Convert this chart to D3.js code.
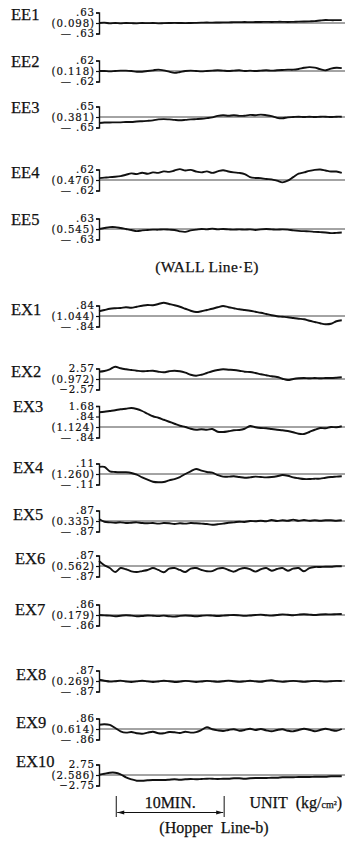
<!DOCTYPE html>
<html>
<head>
<meta charset="utf-8">
<script src="https://cdn.jsdelivr.net/npm/d3@7"></script>
<style>
  body { margin: 0; background: #fff; }
  svg { display: block; }
  .lbl { font-family: "Liberation Serif", "Times New Roman", serif; fill: #111; stroke: #111; stroke-width: 0.25px; }
</style>
</head>
<body>
<div class="chart"></div>
<script>
// one reading every half minute (minutes)
const times = d3.range(0, 23, 0.5);

const panelNames = ["EE1", "EE2", "EE3", "EE4", "EE5",
  "EX1", "EX2", "EX3", "EX4", "EX5", "EX6", "EX7", "EX8", "EX9", "EX10"];

// full scale of each trace (kg/cm2) and the mean shown in brackets
const ranges = [0.63, 0.62, 0.65, 0.62, 0.63, 0.84, 2.57, 0.84, 0.11, 0.87, 0.87, 0.86, 0.87, 0.86, 2.75];
const means = ["0.098", "0.118", "0.381", "0.476", "0.545", "1.044", "0.972", "1.124",
  "1.260", "0.335", "0.562", "0.179", "0.269", "0.614", "2.586"];

// EX3 gets an extra scale mark
const ex3Ticks = [1.68, 0.84];

// deviations from the mean
const ee1 = [0, 0.02, -0.02, 0, -0.02, 0, -0.01, -0.02, 0, -0.01, 0, -0.02, -0.01, 0, 0.01, 0, -0.01, 0, 0.01, 0.02, 0.03, 0.02, 0.03, 0.04, 0.04, 0.05, 0.05, 0.06, 0.05, 0.06, 0.06, 0.07, 0.06, 0.07, 0.07, 0.06, 0.07, 0.08, 0.09, 0.10, 0.11, 0.15, 0.18, 0.17, 0.17, 0.17];
const ee2 = [0, 0, -0.02, 0, 0.02, 0.02, 0, -0.04, -0.04, 0, 0.04, 0.08, 0.04, -0.04, -0.11, -0.06, 0, 0.02, 0, -0.02, 0, 0.02, 0.04, 0.02, 0, 0.02, 0.04, 0, 0.02, 0, 0.02, 0.04, 0.02, 0.04, 0.06, 0.08, 0.08, 0.12, 0.19, 0.23, 0.2, 0.11, 0.04, 0.14, 0.19, 0.17];
const ee3 = [-0.37, -0.34, -0.34, -0.33, -0.33, -0.31, -0.31, -0.28, -0.26, -0.24, -0.21, -0.15, -0.13, -0.15, -0.18, -0.2, -0.18, -0.15, -0.13, -0.11, -0.07, -0.02, 0.07, 0.11, 0.08, 0.11, 0.07, 0.08, 0.13, 0.11, 0.15, 0.11, 0.05, -0.05, -0.08, -0.02, 0, 0.02, 0, 0.02, 0, 0.02, 0.02, 0, 0.02, 0.02];
const ee4 = [0.11, 0.14, 0.17, 0.19, 0.23, 0.31, 0.39, 0.35, 0.43, 0.37, 0.45, 0.42, 0.51, 0.48, 0.56, 0.64, 0.56, 0.6, 0.5, 0.45, 0.51, 0.42, 0.51, 0.58, 0.5, 0.45, 0.42, 0.35, 0.17, 0.12, 0.11, 0.06, 0.04, -0.04, -0.14, -0.04, 0.17, 0.37, 0.45, 0.54, 0.6, 0.62, 0.56, 0.5, 0.5, 0.42];
const ee5 = [0, 0.06, 0.11, 0.11, 0.06, 0, -0.06, -0.13, -0.08, -0.06, -0.04, -0.04, -0.02, -0.04, -0.06, -0.14, -0.17, -0.08, -0.04, 0, -0.02, 0.02, -0.02, 0, -0.02, -0.04, -0.02, -0.04, -0.02, -0.06, -0.02, 0, -0.02, -0.04, -0.02, -0.04, -0.08, -0.11, -0.13, -0.14, -0.17, -0.19, -0.21, -0.25, -0.23, -0.21];
const ex1 = [0.38, 0.48, 0.58, 0.62, 0.64, 0.7, 0.66, 0.74, 0.82, 0.88, 0.86, 0.96, 1.06, 0.96, 0.86, 0.74, 0.58, 0.42, 0.32, 0.38, 0.48, 0.58, 0.7, 0.8, 0.7, 0.62, 0.54, 0.48, 0.42, 0.34, 0.26, 0.16, 0.06, -0.02, -0.06, -0.1, -0.16, -0.22, -0.26, -0.38, -0.48, -0.58, -0.66, -0.62, -0.42, -0.34];
const ex2 = [1.79, 1.96, 2.38, 3.01, 2.62, 2.38, 2.2, 2.03, 1.89, 1.96, 2.03, 1.79, 1.64, 1.89, 2.03, 1.89, 1.54, 1.05, 0.81, 1.05, 1.47, 1.89, 2.2, 2.38, 2.28, 2.2, 2.03, 1.79, 1.72, 1.47, 1.15, 0.91, 0.66, 0.49, 0.07, -0.25, 0, 0.17, 0.25, 0.17, 0.25, 0.17, 0.25, 0.25, 0.32, 0.42];
const ex3 = [1.18, 1.22, 1.28, 1.34, 1.42, 1.46, 1.52, 1.44, 1.28, 1.06, 0.86, 0.74, 0.58, 0.42, 0.26, 0.1, 0, -0.14, -0.22, -0.18, -0.22, -0.16, -0.38, -0.4, -0.34, -0.26, -0.24, -0.14, 0.08, -0.02, -0.08, -0.1, -0.16, -0.22, -0.26, -0.32, -0.42, -0.54, -0.56, -0.4, -0.22, -0.08, -0.1, 0, -0.02, 0.06];
const ex4 = [0.074, 0.074, 0.028, 0.021, 0.018, 0.018, 0.011, -0.007, -0.035, -0.06, -0.081, -0.087, -0.084, -0.066, -0.053, -0.032, 0, 0.028, 0.053, 0.035, 0.021, 0.014, -0.011, -0.028, -0.028, -0.024, -0.032, -0.039, -0.035, -0.028, -0.032, -0.035, -0.032, -0.024, -0.011, -0.018, -0.035, -0.045, -0.053, -0.053, -0.049, -0.049, -0.039, -0.032, -0.028, -0.024];
const ex5 = [0.17, -0.06, -0.11, -0.14, -0.11, -0.17, -0.14, -0.11, -0.17, -0.19, -0.17, -0.22, -0.17, -0.19, -0.25, -0.19, -0.22, -0.17, -0.19, -0.22, -0.25, -0.31, -0.27, -0.22, -0.14, -0.11, -0.06, -0.08, 0, -0.02, 0.02, -0.02, 0.08, 0, 0.06, 0.02, 0.11, 0.02, 0.08, 0.02, 0.06, 0.02, 0.06, 0.06, 0.02, 0.06];
const ex6 = [0.42, 0.06, -0.17, -0.5, -0.17, -0.27, -0.44, -0.5, -0.42, -0.33, -0.17, -0.33, -0.52, -0.22, -0.17, -0.33, -0.5, -0.22, -0.17, -0.33, -0.44, -0.42, -0.22, -0.17, -0.33, -0.47, -0.27, -0.17, -0.27, -0.47, -0.27, -0.17, -0.39, -0.25, -0.17, -0.39, -0.22, -0.17, -0.44, -0.17, -0.08, -0.08, -0.06, -0.06, -0.02, -0.02];
const ex7 = [0, -0.03, -0.05, -0.1, -0.06, -0.02, -0.05, -0.1, -0.08, -0.04, -0.06, -0.09, -0.05, -0.1, -0.13, -0.07, -0.04, -0.06, -0.1, -0.06, -0.03, -0.05, -0.08, -0.05, -0.02, 0, -0.03, -0.07, -0.04, 0, 0.03, -0.02, -0.05, 0, 0.05, 0.02, -0.02, 0.03, 0.06, 0.03, 0, 0.04, 0.06, 0.05, 0.07, 0.08];
const ex8 = [0.1, 0.02, -0.05, -0.02, 0.03, -0.04, -0.08, -0.03, 0.02, -0.03, -0.08, -0.04, 0.02, -0.02, -0.08, -0.05, 0.01, -0.03, -0.08, -0.04, 0.01, -0.03, -0.07, -0.02, 0.03, -0.02, -0.07, -0.03, 0.02, -0.03, -0.06, 0.02, 0.06, -0.02, -0.07, -0.03, 0.01, -0.03, -0.07, -0.03, 0.01, -0.02, -0.05, -0.02, 0.01, 0];
const ex9 = [0.35, 0.39, 0.33, 0.08, -0.19, -0.3, -0.25, -0.35, -0.39, -0.3, -0.22, -0.35, -0.35, -0.25, -0.27, -0.33, -0.22, -0.3, -0.25, -0.08, 0.14, -0.02, -0.11, -0.16, -0.08, -0.02, -0.14, -0.08, 0.02, -0.08, 0, -0.11, -0.19, -0.08, -0.02, -0.14, -0.19, -0.08, 0.02, -0.06, -0.19, -0.08, 0.02, -0.08, -0.14, 0];
const ex10 = [0.08, 0.34, 0.6, 0.6, 0.18, -0.6, -1.13, -1.49, -1.49, -1.39, -1.31, -1.31, -1.31, -1.23, -1.13, -1.23, -1.13, -1.05, -1.13, -1.05, -0.97, -0.97, -1.05, -0.97, -0.97, -0.86, -0.86, -0.97, -0.86, -0.79, -0.79, -0.79, -0.71, -0.71, -0.6, -0.6, -0.6, -0.52, -0.52, -0.52, -0.45, -0.45, -0.45, -0.34, -0.34, -0.34];

const seriesValues = [ee1, ee2, ee3, ee4, ee5, ex1, ex2, ex3, ex4, ex5, ex6, ex7, ex8, ex9, ex10];

const barMinutes = 10;

// layout
const width = 347, height = 842;
const plotLeft = 99, plotRight = 345;
const halfH = 10.5;
const baseY = [23, 71, 117, 180, 229, 316, 379, 427, 474, 521, 566, 615, 681, 729, 775];
const labelX = [11, 11, 11, 11, 11, 11, 11, 13, 13, 13, 15, 15, 16, 16, 16];
const labelDy = [-8, -9, -9, -7, -9, -6, -7, -20, -6, -6, -7, -5, -6, -6, -13];

const svg = d3.select(".chart").append("svg")
  .attr("width", width)
  .attr("height", height);

const x = d3.scaleLinear()
  .domain([0, 22.8])
  .range([plotLeft, plotRight]);

const fmtNum = v => v < 1 ? d3.format(".2f")(v).replace(/^0/, "") : d3.format(".2f")(v);

panelNames.forEach((name, i) => {
  const y0 = baseY[i];
  const r = ranges[i];
  const top = name === "EX3" ? ex3Ticks[0] : r;

  const y = d3.scaleLinear()
    .domain([-r, top])
    .range([y0 + halfH, y0 - halfH * top / r]);

  const g = svg.append("g").attr("class", "panel");

  // zero line
  g.append("line")
    .attr("x1", x(0)).attr("x2", plotRight)
    .attr("y1", y(0)).attr("y2", y(0))
    .attr("stroke", "#333")
    .attr("stroke-width", 0.9);

  const tickVals = name === "EX3" ? [-r, 0].concat(ex3Ticks) : [-r, 0, r];

  // the "]" bracket with its scale marks
  const ax = g.append("g")
    .attr("transform", "translate(" + plotLeft + ",0)")
    .call(d3.axisLeft(y)
      .tickValues(tickVals)
      .tickSizeInner(3)
      .tickSizeOuter(3)
      .tickPadding(1)
      .tickFormat(v => v === 0 ? "(" + means[i] + ")" : v > 0 ? fmtNum(v) : (r < 1 ? "\u2014 " : "\u2212") + fmtNum(-v)));

  ax.select(".domain").attr("stroke", "#111").attr("stroke-width", 1.4);
  ax.selectAll(".tick line").attr("stroke", "#111").attr("stroke-width", 1.2);
  ax.selectAll(".tick text")
    .attr("fill", "#111")
    .attr("stroke", "#111")
    .attr("stroke-width", 0.2)
    .style("font-family", "'DejaVu Serif', serif")
    .style("font-size", "10.2px")
    .style("letter-spacing", "0.9px");

  const line = d3.line()
    .x((d, j) => x(times[j]))
    .y(d => y(d))
    .curve(d3.curveCatmullRom.alpha(0.5));

  g.append("path")
    .datum(seriesValues[i])
    .attr("fill", "none")
    .attr("stroke", "#111")
    .attr("stroke-width", 1.9)
    .attr("stroke-linejoin", "round")
    .attr("d", line);

  g.append("text")
    .attr("class", "lbl")
    .attr("x", labelX[i])
    .attr("y", y0 + labelDy[i] + 5)
    .style("font-size", "16.5px")
    .text(name);
});

svg.append("text")
  .attr("class", "lbl")
  .attr("x", 207).attr("y", 272)
  .attr("text-anchor", "middle")
  .style("font-size", "15.5px")
  .style("letter-spacing", "0.3px")
  .text("(WALL Line\u00b7E)");

// 10 minute bar
const barX0 = x(1.6), barX1 = x(1.6 + barMinutes);
const bar = svg.append("g");
[barX0, barX1].forEach(bx => {
  bar.append("line")
    .attr("x1", bx).attr("x2", bx)
    .attr("y1", 796).attr("y2", 817)
    .attr("stroke", "#111").attr("stroke-width", 1);
});
bar.append("line")
  .attr("x1", barX0 + 1).attr("x2", barX1 - 1)
  .attr("y1", 812.5).attr("y2", 812.5)
  .attr("stroke", "#111").attr("stroke-width", 1.2);
bar.selectAll("path.head")
  .data([[barX0 + 1, 1], [barX1 - 1, -1]])
  .enter().append("path")
  .attr("class", "head")
  .attr("d", d => "M" + d[0] + ",812.5 l" + (7 * d[1]) + ",-2 l0,4 z")
  .attr("fill", "#111");

bar.append("text")
  .attr("class", "lbl")
  .attr("x", (barX0 + barX1) / 2).attr("y", 808)
  .attr("text-anchor", "middle")
  .style("font-size", "16px")
  .text(barMinutes + "MIN.");

const unit = svg.append("text")
  .attr("class", "lbl")
  .attr("x", 342).attr("y", 808)
  .attr("text-anchor", "end")
  .style("font-size", "16px");
unit.append("tspan").text("UNIT\u00a0\u00a0(kg/");
unit.append("tspan").style("font-size", "10px").text("cm\u00b2");
unit.append("tspan").text(")");

svg.append("text")
  .attr("class", "lbl")
  .attr("x", 214).attr("y", 833)
  .attr("text-anchor", "middle")
  .style("font-size", "16px")
  .text("(Hopper\u00a0 Line-b)");
</script>
</body>
</html>
